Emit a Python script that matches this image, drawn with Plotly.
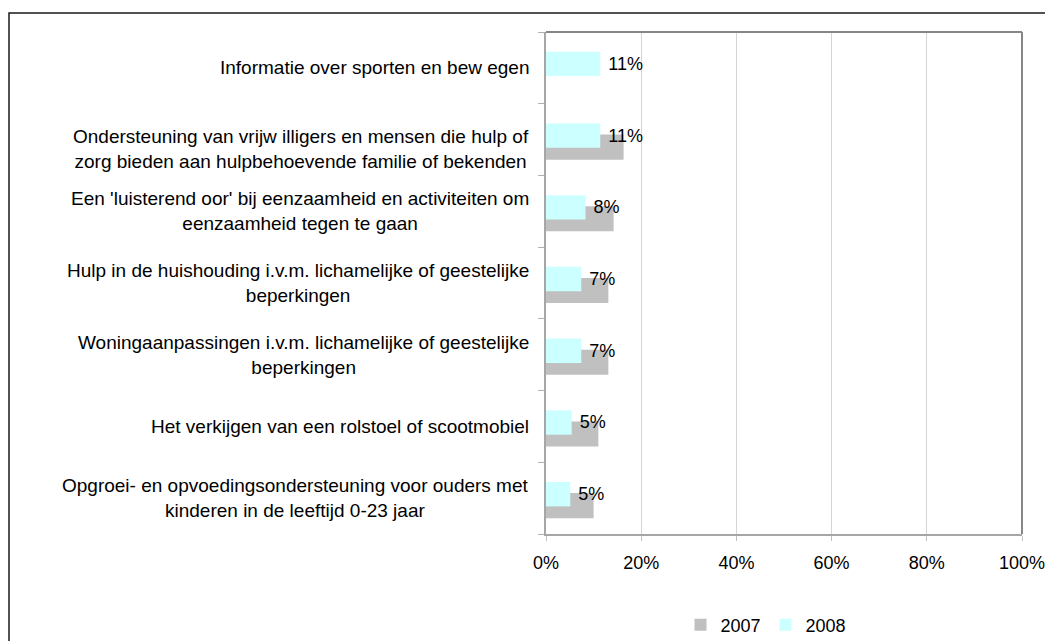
import plotly.graph_objects as go

categories = [
    "Informatie over sporten en bew egen",
    "Ondersteuning van vrijw illigers en mensen die hulp of<br>zorg bieden aan hulpbehoevende familie of bekenden",
    "Een 'luisterend oor' bij eenzaamheid en activiteiten om<br>eenzaamheid tegen te gaan",
    "Hulp in de huishouding i.v.m. lichamelijke of geestelijke<br>beperkingen",
    "Woningaanpassingen i.v.m. lichamelijke of geestelijke<br>beperkingen",
    "Het verkijgen van een rolstoel of scootmobiel",
    "Opgroei- en opvoedingsondersteuning voor ouders met<br>kinderen in de leeftijd 0-23 jaar",
]
values_2007 = [None, 16.3, 14.2, 13.1, 13.1, 11.0, 10.0]
values_2008 = [11.4, 11.4, 8.3, 7.4, 7.4, 5.4, 5.1]
x_ticks = [0, 20, 40, 60, 80, 100]
x_tick_labels = ["0%", "20%", "40%", "60%", "80%", "100%"]

FONT = "Liberation Sans, Arial, sans-serif"
pos = list(range(len(categories)))

fig = go.Figure()
fig.add_trace(go.Bar(
    name="2007", y=pos, x=values_2007, orientation="h",
    marker=dict(color="#C0C0C0", line=dict(width=0)),
    offset=-0.07, width=0.35, hoverinfo="x",
))
fig.add_trace(go.Bar(
    name="2008", y=pos, x=values_2008, orientation="h",
    marker=dict(color="#CCFFFF", line=dict(width=0)),
    offset=-0.225, width=0.34,
    texttemplate="\u00a0%{x:.0f}%", textposition="outside", cliponaxis=False,
    textfont=dict(family=FONT, size=18, color="#000000"),
    hoverinfo="x",
))

W, H = 1053, 641
ml, mr, mt, mb = 538, 39, 24, 115
pw = W - ml - mr
ph = H - mt - mb

def px_x(x):
    return (x - ml) / pw

def px_y(y):
    return (H - mb - y) / ph

label_yshift = [0, -9, 0, 0, 0, 0, 0]

annotations = []
for i, c in enumerate(categories):
    annotations.append(dict(
        text=c, xref="paper", x=0, xanchor="right", xshift=-15,
        yref="y", y=i, yanchor="middle", yshift=label_yshift[i],
        align="center", showarrow=False,
        font=dict(family=FONT, size=19, color="#000000"),
    ))

shapes = [
    # outer chart frame (extends beyond the visible window)
    dict(type="rect", xref="paper", yref="paper",
         x0=px_x(1), x1=px_x(1070), y0=px_y(660), y1=px_y(5),
         line=dict(color="#1a1a1a", width=1.5), fillcolor="rgba(0,0,0,0)", layer="below"),
    # top and right plot border
    dict(type="line", xref="paper", yref="paper", x0=0, x1=1, y0=1, y1=1,
         line=dict(color="#868686", width=2)),
    dict(type="line", xref="paper", yref="paper", x0=1, x1=1, y0=0, y1=1,
         line=dict(color="#868686", width=2)),
]

fig.update_layout(
    width=W, height=H,
    margin=dict(l=ml, r=mr, t=mt, b=mb, autoexpand=False),
    paper_bgcolor="white", plot_bgcolor="white",
    barmode="overlay",
    showlegend=True,
    legend=dict(orientation="h", x=px_x(758), xanchor="center",
                y=px_y(617), yanchor="middle",
                font=dict(family=FONT, size=18, color="#000000"),
                itemwidth=30, bgcolor="rgba(0,0,0,0)"),
    font=dict(family=FONT, size=18, color="#000000"),
    annotations=annotations,
    shapes=shapes,
    xaxis=dict(range=[0, 100], tickvals=x_ticks, ticktext=x_tick_labels,
               showgrid=True, gridcolor="#D4D4D4", gridwidth=1,
               showline=True, linecolor="#A6A6A6", linewidth=2,
               ticks="outside", ticklen=5, tickcolor="#C0C0C0",
               ticklabelstandoff=6, zeroline=False,
               tickfont=dict(family=FONT, size=18, color="#000000"),
               fixedrange=True),
    yaxis=dict(range=[6.5, -0.5], tickmode="array",
               tickvals=[-0.5, 0.5, 1.5, 2.5, 3.5, 4.5, 5.5, 6.5],
               ticktext=[""] * 8, showticklabels=False,
               ticks="outside", ticklen=6, tickcolor="#B0B0B0",
               showgrid=False, zeroline=False,
               showline=True, linecolor="#A6A6A6", linewidth=2,
               fixedrange=True),
)

fig.write_html("out.html")
